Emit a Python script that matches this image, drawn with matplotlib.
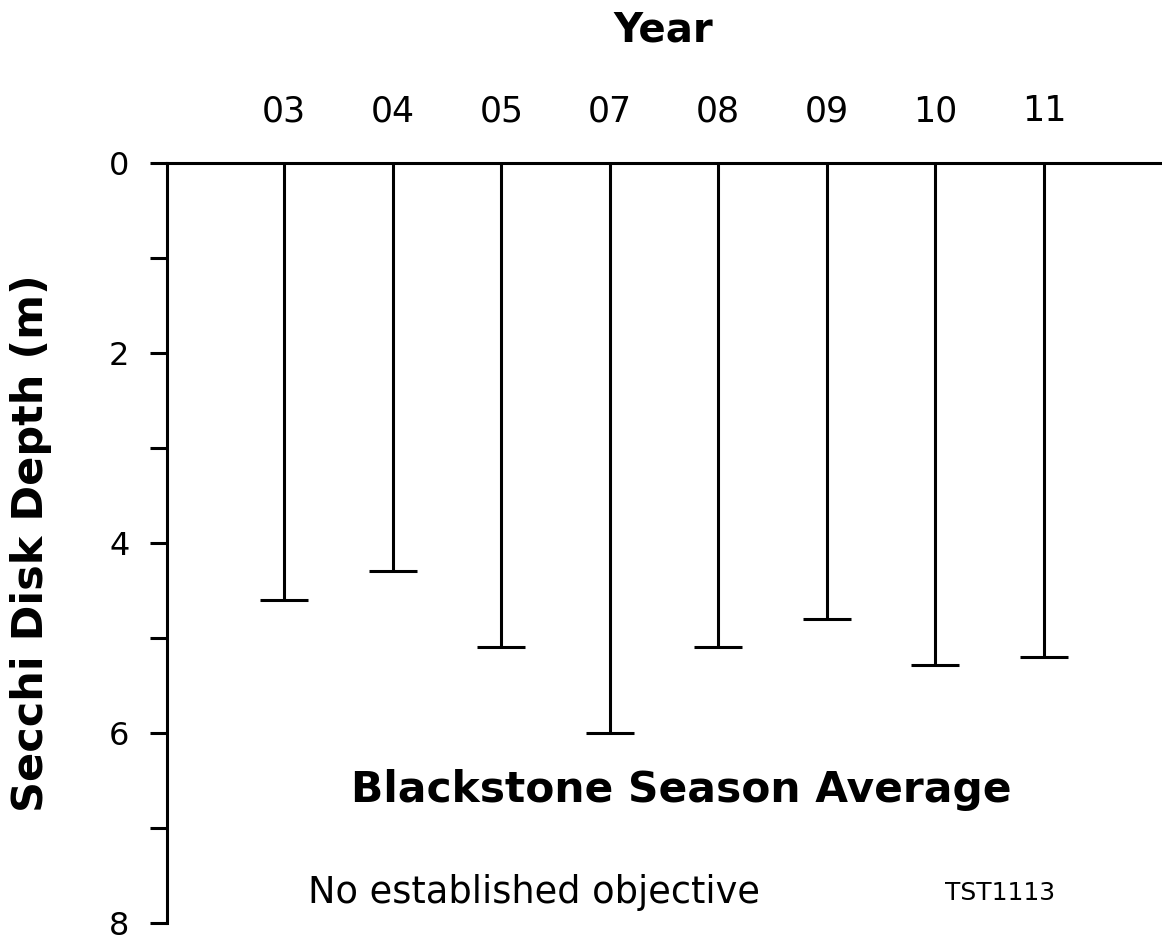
import matplotlib
matplotlib.use('Agg')
import matplotlib.pyplot as plt
from matplotlib.ticker import MultipleLocator

plt.rcParams['font.family'] = ['DejaVu Sans']

# data
years = ['03', '04', '05', '07', '08', '09', '10', '11']
depth = [4.6, 4.3, 5.1, 6.0, 5.1, 4.8, 5.28, 5.2]
x = list(range(1, len(years) + 1))

fig = plt.figure(figsize=(11.62, 9.36), dpi=100)
ax = fig.add_axes([0.1437, 0.0139, 0.8546, 0.812])

# lines from the surface down to the depth, cap at the bottom
ax.vlines(x, 0, depth, color='black', linewidth=2.2)
ax.hlines(depth, [i - 0.22 for i in x], [i + 0.22 for i in x],
          color='black', linewidth=2.2)

ax.set_xlim(-0.08, 9.07)
ax.set_ylim(8, 0)

# year labels on top, no tick marks
ax.xaxis.tick_top()
ax.set_xticks(x)
ax.set_xticklabels(years)
ax.tick_params(axis='x', length=0, pad=25, labelsize=25)

ax.yaxis.set_major_locator(MultipleLocator(2))
ax.yaxis.set_minor_locator(MultipleLocator(1))
ax.tick_params(axis='y', which='both', direction='out', length=12, width=2.2,
               labelsize=23, pad=15)

for s in ['bottom', 'right']:
    ax.spines[s].set_visible(False)
for s in ['top', 'left']:
    ax.spines[s].set_linewidth(2.2)

ax.set_ylabel('Secchi Disk Depth (m)', fontsize=31, fontweight='bold')
ax.yaxis.set_label_coords(-0.116, 0.5)
ax.text(0.5, 1.174, 'Year', transform=ax.transAxes, ha='center', va='center',
        fontsize=29, fontweight='bold')

ax.text(4.66, 6.6, 'Blackstone Season Average', ha='center', va='center',
        fontsize=30.5, fontweight='bold')
ax.text(3.3, 7.68, 'No established objective', ha='center', va='center',
        fontsize=26.5)
ax.text(7.6, 7.68, 'TST1113', ha='center', va='center', fontsize=18)

fig.savefig('out.png', dpi=100)
